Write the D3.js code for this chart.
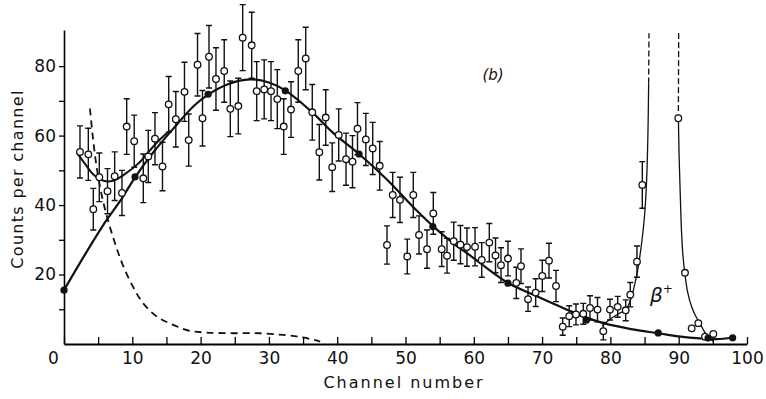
<!DOCTYPE html>
<html lang="en">
<head>
<meta charset="utf-8">
<title>Counts per channel (b)</title>
<script src="https://d3js.org/d3.v7.min.js"></script>
<style>
body { margin: 0; background: #fff; }
text { font-family: "DejaVu Sans", sans-serif; fill: #111; }
</style>
</head>
<body>
<script>
// 1. data
const ptChannel = [2.34, 3.56, 4.29, 5.17, 6.37, 7.42, 8.49, 9.18, 10.28, 11.61, 12.34, 13.32, 14.42, 15.33, 16.37, 17.64, 18.26, 19.55, 20.28, 21.23,
  22.25, 23.46, 24.35, 25.52, 26.16, 27.48, 28.21, 29.31, 30.31, 31.23, 32.17, 33.24, 34.3, 35.39, 36.35, 37.38, 38.32, 39.27, 40.22, 41.29,
  42.24, 42.97, 44.19, 45.2, 46.22, 47.29, 48.13, 49.19, 50.26, 51.14, 51.98, 53.15, 54.07, 55.3, 56.08, 57.06, 58.05, 59.0, 60.18, 61.16,
  62.27, 63.18, 63.98, 65.0, 66.22, 66.91, 67.94, 69.06, 70.03, 71.01, 72.04, 73.02, 73.97, 74.96, 76.03, 77.01, 78.11, 78.96, 79.94, 81.07,
  82.24, 82.91, 83.89, 84.67, 89.94, 90.92, 91.9, 92.87, 93.85, 95.07];
const ptCount = [55.3, 54.6, 38.8, 48, 44, 48.3, 43.5, 62.6, 58.4, 47.7, 54, 59.1, 51.1, 69, 64.7, 72.6, 58.7, 80.4, 65, 82.7,
  76.3, 78.6, 67.7, 68.5, 88.2, 86, 72.8, 73.3, 72.8, 70.5, 62.6, 67.5, 78.6, 82.2, 66.7, 55.2, 65.2, 50.9, 60.2, 53.2,
  52.5, 62, 58.9, 56.3, 51.3, 28.5, 42.9, 41.5, 25.2, 42.9, 31.4, 27.3, 37.6, 27.3, 25.4, 29.6, 28.6, 27.9, 28, 24.2,
  29.2, 25.5, 22.7, 24.6, 17.6, 22.4, 12.9, 14.8, 19.6, 24, 16.7, 5, 8, 8.5, 8.7, 10.4, 9.9, 3.7, 9.9, 10.7,
  9.7, 14.2, 23.7, 45.8, 65, 20.5, 4.5, 6, 2.1, 2.9];
const ptErr = [7.5, 7.5, 6, 7, 6.5, 7, 6.5, 8, 7.5, 7, 7.5, 7.5, 7, 8, 8, 8.5, 7.5, 9, 8, 9,
  9, 9, 8, 8, 9.5, 9.5, 8.5, 8.5, 8.5, 8.5, 8, 8, 9, 9, 8, 8, 8, 7, 7.5, 7.5,
  7.5, 7.5, 7.5, 7.5, 7, 5.5, 6.5, 6.5, 5, 6.5, 5.5, 5.5, 6, 5, 5, 5.5, 5.5, 5.5, 5.5, 5,
  5.5, 5, 5, 5, 4.5, 5, 3.5, 4, 4.5, 5, 4.5, 2.5, 3, 3, 3, 3.5, 3.5, 2.5, 3, 3,
  3, 3.5, 4.5, 6.7, 0, 0, 0, 0, 0, 0];

const dotChannel = [0, 10.4, 21.1, 32.4, 43.2, 54.0, 65.0, 76.5, 87.0, 94.3, 97.9];
const dotCount = [15.5, 48.1, 71.9, 72.9, 54.7, 33.8, 17.5, 6.9, 3.2, 1.7, 1.8];

const fitCurve = [[0, 15.5], [3, 25.5], [6, 35], [8.5, 42], [10.4, 48], [13, 55], [16, 62], [19, 68.5], [21.1, 71.8], [24, 74.8],
  [27.2, 76.2], [30, 75.3], [32.4, 73], [36.5, 66.4], [39.4, 60.8], [43.2, 54.7], [47.2, 47.5], [51.6, 38.5], [54.1, 33.8], [57, 29],
  [59.4, 25.6], [61, 23.2], [65.1, 17.5], [69.2, 13.8], [74, 9.6], [76.5, 7.6], [79, 6], [83, 4.3], [87, 3.1], [90, 2.2],
  [93.1, 1.6], [95.5, 1.4], [97.9, 1.8]];
const lowCurve = [[1.9, 55], [3.1, 51.8], [4.3, 48.8], [5.8, 47], [7.2, 47], [8.9, 48.9], [10.9, 52], [12.6, 55.8], [14.1, 59], [15.5, 61.5]];
const bgCurve = [[3.8, 67.8], [4.2, 60], [4.7, 52], [5.3, 45], [6.0, 38.8], [6.8, 33.2], [7.6, 28.2], [8.6, 22.8], [10.1, 16.5],
  [11.6, 11.7], [13.6, 7.9], [16, 5.5], [18.4, 3.8], [20.9, 3.3], [24.8, 3.1], [28.7, 3.1], [32.1, 2.6], [35, 1.9], [37.5, 0.7]];
const peakLeft = [[78.8, 5.2], [80, 7.2], [81.2, 8.7], [82.3, 10], [83, 13], [83.6, 17.5], [84.1, 22.5], [84.6, 29.5], [85, 37], [85.3, 47], [85.5, 61], [85.6, 75]];
const peakLeftTop = [[85.6, 75], [85.65, 89.5]];
const peakRight = [[89.95, 66], [90.05, 55], [90.2, 45], [90.4, 33], [90.6, 26], [90.9, 20.3], [91.3, 15], [91.9, 10.7], [92.5, 8], [93.1, 6],
  [93.7, 3.8], [94.3, 2.1], [95, 0.8]];
const peakRightTop = [[90, 89.5], [89.95, 66]];

const xTicks = d3.range(0, 101, 5);
const yTicks = d3.range(10, 81, 10);

// 2. svg and scales
const svgWidth = 766;
const svgHeight = 399;

const x = d3.scaleLinear().domain([0, 100]).range([64, 747]);
const y = d3.scaleLinear().domain([0, 90.4]).range([344, 30]);

const svg = d3.select("body").append("svg")
  .attr("width", svgWidth)
  .attr("height", svgHeight);

// 3. axes
const xAxis = d3.axisBottom(x)
  .tickValues(xTicks)
  .tickFormat(d => d % 10 === 0 ? d : "")
  .tickSizeInner(-7)
  .tickSizeOuter(0)
  .tickPadding(8);

const gx = svg.append("g")
  .attr("transform", "translate(0," + y(0) + ")")
  .call(xAxis);
gx.select(".domain").attr("stroke-width", 2);
gx.selectAll(".tick line").attr("stroke-width", 1.3);
gx.selectAll(".tick text").attr("font-size", 17).attr("font-family", "DejaVu Sans")
  .attr("dx", d => d === 0 ? -11 : 0);

const yAxis = d3.axisLeft(y)
  .tickValues(yTicks)
  .tickFormat(d => d % 20 === 0 ? d : "")
  .tickSizeInner(5)
  .tickSizeOuter(0)
  .tickPadding(3);

const gy = svg.append("g")
  .attr("transform", "translate(" + x(0) + ",0)")
  .call(yAxis);
gy.select(".domain").attr("stroke-width", 1.6);
gy.selectAll(".tick line").attr("stroke-width", 1.3);
gy.selectAll(".tick text").attr("font-size", 17).attr("font-family", "DejaVu Sans");

svg.append("text")
  .attr("x", 404).attr("y", 388)
  .attr("text-anchor", "middle")
  .attr("font-size", 16)
  .attr("letter-spacing", 2)
  .text("Channel number");

svg.append("text")
  .attr("transform", "translate(23,179) rotate(-90)")
  .attr("text-anchor", "middle")
  .attr("font-size", 16)
  .attr("letter-spacing", 1.3)
  .text("Counts per channel");

svg.append("text")
  .attr("x", 493).attr("y", 80)
  .attr("text-anchor", "middle")
  .attr("font-size", 15)
  .attr("font-style", "italic")
  .text("(b)");

const beta = svg.append("text")
  .attr("x", 650).attr("y", 302)
  .attr("font-size", 20)
  .attr("font-style", "italic");
beta.append("tspan").text("β");
beta.append("tspan").attr("font-size", 12).attr("dy", -9).text("+");

// 4. curves
const line = d3.line()
  .x(d => x(d[0]))
  .y(d => y(d[1]))
  .curve(d3.curveCatmullRom.alpha(0.5));

function drawCurve(pts, width, dash) {
  svg.append("path")
    .datum(pts)
    .attr("d", line)
    .attr("fill", "none")
    .attr("stroke", "#111")
    .attr("stroke-width", width)
    .attr("stroke-dasharray", dash);
}

drawCurve(bgCurve, 1.8, "7,5");
drawCurve(fitCurve, 2.2, null);
drawCurve(lowCurve, 2, null);
drawCurve(peakLeft, 1.3, null);
drawCurve(peakRight, 1.3, null);
drawCurve(peakLeftTop, 1.3, "6,3");
drawCurve(peakRightTop, 1.3, "6,3");

// 5. error bars and points
const pts = ptChannel.map((c, i) => ({c: c, v: ptCount[i], e: ptErr[i]}));
const withErr = pts.filter(d => d.e > 0);

svg.selectAll(".err")
  .data(withErr)
  .join("path")
  .attr("class", "err")
  .attr("d", d => {
    const cx = x(d.c), top = y(d.v + d.e), bot = y(d.v - d.e);
    return "M" + (cx - 3) + "," + top + "H" + (cx + 3) +
      "M" + cx + "," + top + "V" + bot +
      "M" + (cx - 3) + "," + bot + "H" + (cx + 3);
  })
  .attr("fill", "none")
  .attr("stroke", "#111")
  .attr("stroke-width", 1.4);

svg.selectAll(".pt")
  .data(pts)
  .join("circle")
  .attr("class", "pt")
  .attr("cx", d => x(d.c))
  .attr("cy", d => y(d.v))
  .attr("r", 3.3)
  .attr("fill", "#fff")
  .attr("stroke", "#111")
  .attr("stroke-width", 1.3);

svg.selectAll(".dot")
  .data(dotChannel)
  .join("circle")
  .attr("class", "dot")
  .attr("cx", d => x(d))
  .attr("cy", (d, i) => y(dotCount[i]))
  .attr("r", 3.6)
  .attr("fill", "#111");
</script>
</body>
</html>
